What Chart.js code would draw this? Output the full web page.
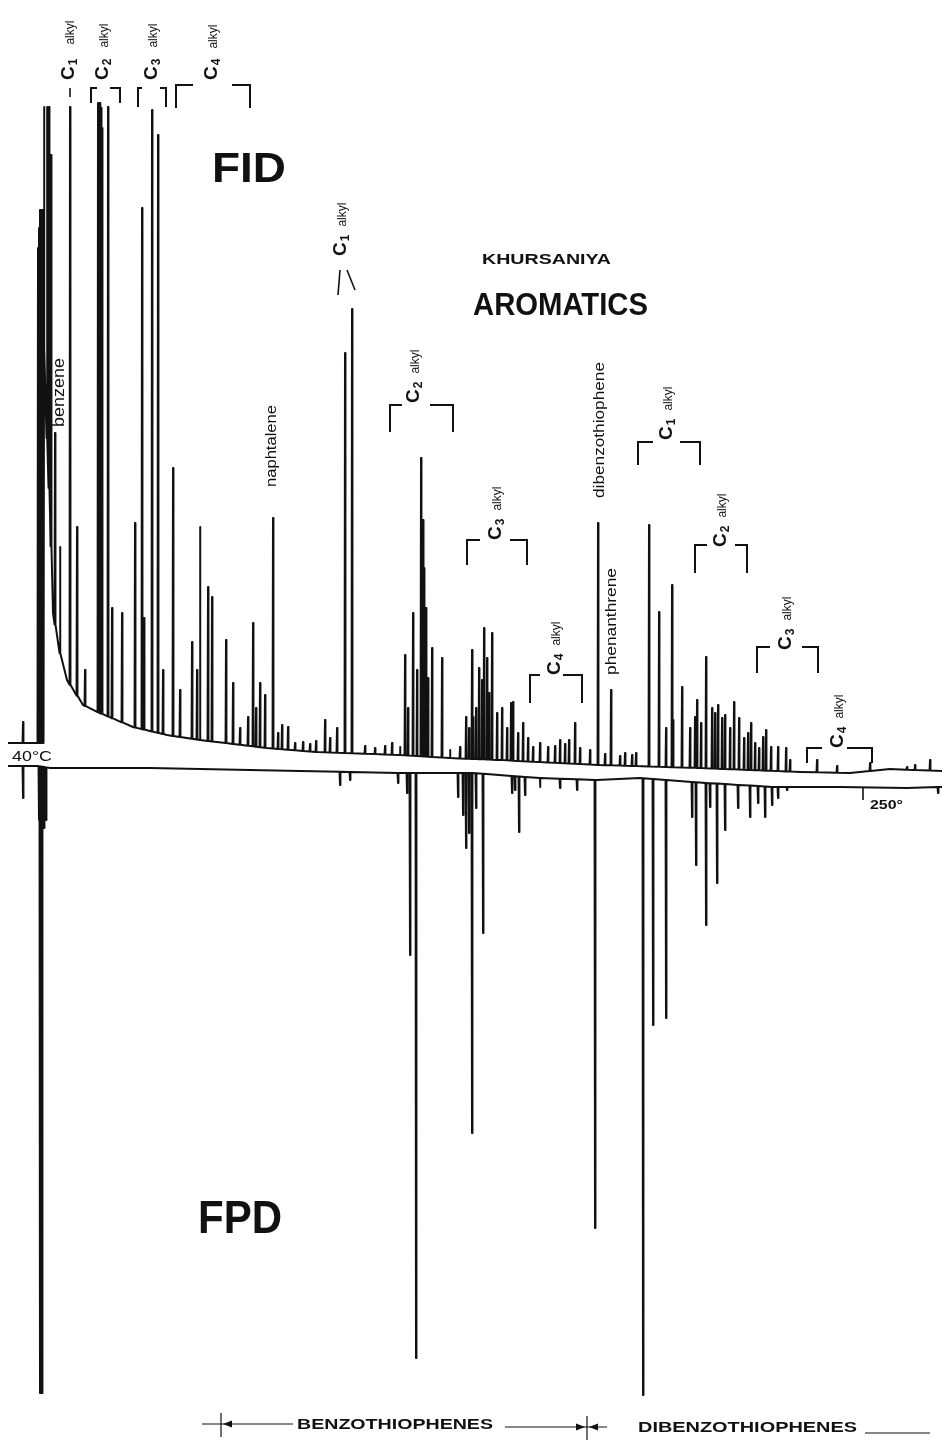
<!DOCTYPE html>
<html>
<head>
<meta charset="utf-8">
<title>Khursaniya aromatics - FID / FPD</title>
<script src="https://cdn.jsdelivr.net/npm/chart.js@4.4.1/dist/chart.umd.min.js"></script>
<style>
  html, body { margin: 0; padding: 0; background: #fff; overflow: hidden; }
</style>
</head>
<body>
<canvas id="gc" width="942" height="1443"></canvas>
<script>
// Retention axis runs from the 40 C start (left) to past 250 C (right).
// Response is in chart units, FID upwards, FPD downwards.
const fidBaseTimes  = [8, 37.5, 43.6, 44, 47, 50, 53, 60, 67, 83, 100, 133, 167, 200, 267, 317, 400, 450, 500, 600, 700, 800, 850, 890, 942];
const fidBaseValues = [25, 25, 25, 420, 330, 255, 155, 115, 88, 63, 55, 41, 33, 28, 20, 16, 13, 10, 8, 3, 0, -4, -5, -1, -3];

const fidPeakTimes  = [23, 38, 39, 40, 41, 42, 43, 44, 47, 49, 51, 55, 60, 70, 77, 85, 98, 99, 100, 101, 102, 108,
  112, 122, 135, 142, 144, 152, 158, 163, 173, 180, 192, 197, 200, 208, 212, 226, 233, 240, 248, 253,
  256, 260, 265, 273, 278, 282, 288, 295, 303, 310, 316, 325, 330, 337, 345, 352, 365, 375, 385, 392,
  400, 405, 408, 413, 417, 421, 423, 424, 426, 428, 432, 442, 450, 460, 466, 469, 472, 473, 476, 479,
  482, 484, 487, 489, 492, 497, 502, 507, 511, 513, 518, 523, 528, 533, 540, 548, 555, 560, 565, 569,
  575, 580, 590, 598, 605, 611, 620, 625, 632, 636, 649, 659, 666, 672, 673, 682, 690, 695, 697, 701,
  706, 712, 715, 718, 722, 725, 730, 734, 739, 744, 748, 751, 755, 759, 763, 766, 771, 778, 786, 790,
  817, 837, 870, 907, 915, 930];
const fidPeakValues = [46, 520, 540, 558, 558, 558, 558, 661, 661, 661, 613, 335, 221, 661, 241, 98, 665, 665, 665, 660, 640, 661,
  160, 155, 245, 560, 150, 658, 633, 98, 300, 78, 126, 98, 241, 181, 171, 128, 85, 40, 51, 145,
  60, 85, 73, 250, 35, 43, 41, 25, 26, 24, 27, 48, 30, 40, 415, 459, 22, 20, 22, 25,
  21, 113, 60, 155, 98, 310, 248, 200, 160, 90, 120, 110, 18, 21, 51, 40, 118, 51, 60, 100,
  88, 140, 110, 75, 135, 55, 60, 40, 65, 66, 35, 45, 30, 21, 25, 21, 22, 28, 24, 28,
  45, 20, 18, 245, 14, 78, 12, 15, 13, 15, 243, 156, 40, 183, 48, 81, 40, 51, 68, 45,
  111, 60, 55, 63, 50, 53, 40, 66, 50, 30, 35, 45, 25, 20, 31, 38, 21, 21, 20, 8,
  8, 2, 5, 1, 3, 8];

const fpdBaseTimes  = [8, 37, 50, 150, 300, 400, 473, 540, 597, 640, 707, 773, 840, 907, 942];
const fpdBaseValues = [2, 2, 0, 0, -3, -5, -5, -10, -12, -10, -15, -19, -19, -20, -19];

const fpdPeakTimes  = [23, 39, 40, 41, 42, 44, 46, 340, 350, 398, 407, 410, 416, 458, 463, 466, 469, 472, 476, 483,
  512, 515, 519, 525, 540, 560, 577, 595, 643, 653, 666, 692, 696, 706, 710, 717, 725, 738, 750, 758,
  765, 772, 778, 787, 938];
const fpdPeakValues = [-30, -52, -625, -625, -625, -60, -52, -17, -12, -15, -25, -187, -590, -29, -47, -80, -65, -365, -40, -165,
  -25, -22, -64, -27, -19, -20, -22, -460, -627, -257, -250, -49, -97, -157, -39, -115, -62, -40, -49, -35,
  -49, -37, -30, -22, -25];

// annotation layout, in the same chart units
const alkylLabels = [
  { t: 67, v: 688, n: '1', gap: 14 }, { t: 101, v: 688, n: '2', gap: 11 },
  { t: 150, v: 688, n: '3', gap: 11 }, { t: 210, v: 688, n: '4', gap: 10 },
  { t: 339, v: 512, n: '1', gap: 8 }, { t: 412, v: 365, n: '2', gap: 8 },
  { t: 494, v: 228, n: '3', gap: 8 }, { t: 553, v: 93, n: '4', gap: 8 },
  { t: 665, v: 328, n: '1', gap: 8 }, { t: 719, v: 221, n: '2', gap: 8 },
  { t: 784, v: 118, n: '3', gap: 8 }, { t: 836, v: 20, n: '4', gap: 8 }
];
// t1, gapStart, gapEnd, t2, top, bottom
const brackets = [
  [91, 97, 110, 120, 680, 665], [138, 142, 160, 166, 680, 661], [176, 193, 232, 250, 683, 660],
  [390, 402, 430, 453, 363, 336], [467, 480, 510, 527, 228, 203], [530, 540, 563, 582, 93, 65],
  [638, 653, 680, 700, 326, 303], [695, 707, 735, 747, 223, 195], [757, 770, 802, 818, 121, 95],
  [807, 822, 847, 872, 20, 5]
];
const segments = [
  [70, 680, 70, 671], [340, 498, 338, 473], [347, 498, 355, 478], [863, -20, 863, -32]
];
const scaleLines = [
  [202, -656, 293, -656], [221, -645, 221, -669], [505, -659, 607, -659], [587, -648, 587, -672], [865, -665, 930, -665]
];
const arrowHeads = [[223, -656, 1], [585, -659, -1], [589, -659, 1]];
const wordsUp = [
  { text: 'benzene', t: 60, v: 341, len: 69, size: 16 },
  { text: 'naphtalene', t: 272, v: 281, len: 82, size: 14 },
  { text: 'dibenzothiophene', t: 600, v: 270, len: 136, size: 14 },
  { text: 'phenanthrene', t: 612, v: 93, len: 107, size: 14 }
];
const wordsFlat = [
  { text: 'FID', t: 212, v: 598, len: 74, size: 42, bold: true },
  { text: 'KHURSANIYA', t: 482, v: 508, len: 129, size: 15, bold: true },
  { text: 'AROMATICS', t: 473, v: 462, len: 175, size: 31, bold: true },
  { text: 'FPD', t: 198, v: -452, len: 84, size: 47, bold: true },
  { text: '40°C', t: 12, v: 11, len: 40, size: 14, bold: false },
  { text: '250°', t: 870, v: -37, len: 33, size: 13, bold: true },
  { text: 'BENZOTHIOPHENES', t: 297, v: -657, len: 196, size: 14, bold: true },
  { text: 'DIBENZOTHIOPHENES', t: 638, v: -660, len: 219, size: 14, bold: true }
];

const FONT = '"Liberation Sans", Arial, sans-serif';
const INK = '#111';

function baseAt(times, values, t) {
  for (let i = 1; i < times.length; i++) {
    if (t <= times[i]) {
      const f = (t - times[i - 1]) / (times[i] - times[i - 1]);
      return values[i - 1] + f * (values[i] - values[i - 1]);
    }
  }
  return values[values.length - 1];
}

// baseline samples plus a narrow spike for every peak
function buildTrace(baseTimes, baseValues, peakTimes, peakValues) {
  const pts = baseTimes.map((t, i) => ({ x: t, y: baseValues[i] }));
  peakTimes.forEach((t, i) => {
    const b = baseAt(baseTimes, baseValues, t);
    pts.push({ x: t - 0.45, y: b }, { x: t, y: peakValues[i] }, { x: t + 0.45, y: b });
  });
  pts.sort((a, b) => a.x - b.x);
  return pts;
}

const labelPlugin = {
  id: 'gcLabels',
  afterDatasetsDraw(chart) {
    const ctx = chart.ctx;
    const px = t => chart.scales.x.getPixelForValue(t);
    const py = v => chart.scales.y.getPixelForValue(v);
    ctx.save();
    ctx.fillStyle = INK;
    ctx.strokeStyle = INK;
    ctx.lineCap = 'butt';

    ctx.lineWidth = 2;
    brackets.forEach(b => {
      ctx.beginPath();
      ctx.moveTo(px(b[0]), py(b[5])); ctx.lineTo(px(b[0]), py(b[4])); ctx.lineTo(px(b[1]), py(b[4]));
      ctx.moveTo(px(b[2]), py(b[4])); ctx.lineTo(px(b[3]), py(b[4])); ctx.lineTo(px(b[3]), py(b[5]));
      ctx.stroke();
    });
    ctx.lineWidth = 1.6;
    segments.forEach(s => {
      ctx.beginPath(); ctx.moveTo(px(s[0]), py(s[1])); ctx.lineTo(px(s[2]), py(s[3])); ctx.stroke();
    });
    ctx.lineWidth = 1.2;
    scaleLines.forEach(s => {
      ctx.beginPath(); ctx.moveTo(px(s[0]), py(s[1])); ctx.lineTo(px(s[2]), py(s[3])); ctx.stroke();
    });
    arrowHeads.forEach(a => {
      const x = px(a[0]), y = py(a[1]), d = a[2];
      ctx.beginPath(); ctx.moveTo(x, y); ctx.lineTo(x + d * 9, y - 3.5); ctx.lineTo(x + d * 9, y + 3.5); ctx.closePath(); ctx.fill();
    });

    // C_n alkyl groups, written bottom to top
    alkylLabels.forEach(l => {
      ctx.save();
      ctx.font = 'bold 19px ' + FONT;
      const cap = 19 * 0.72;
      ctx.translate(px(l.t) + cap / 2, py(l.v));
      ctx.rotate(-Math.PI / 2);
      ctx.textAlign = 'left';
      ctx.textBaseline = 'alphabetic';
      ctx.fillText('C', 0, 0);
      let w = ctx.measureText('C').width + 1;
      ctx.font = 'bold 12px ' + FONT;
      ctx.fillText(l.n, w, 3);
      w += ctx.measureText(l.n).width + l.gap;
      ctx.font = '12px ' + FONT;
      ctx.fillText('alkyl', w, 0);
      ctx.restore();
    });

    wordsUp.forEach(l => {
      ctx.save();
      ctx.font = l.size + 'px ' + FONT;
      const sx = l.len / ctx.measureText(l.text).width;
      ctx.translate(px(l.t), py(l.v));
      ctx.rotate(-Math.PI / 2);
      ctx.scale(sx, 1);
      ctx.textAlign = 'left';
      ctx.textBaseline = 'middle';
      ctx.fillText(l.text, 0, 0);
      ctx.restore();
    });

    wordsFlat.forEach(l => {
      ctx.save();
      ctx.font = (l.bold ? 'bold ' : '') + l.size + 'px ' + FONT;
      const sx = l.len / ctx.measureText(l.text).width;
      ctx.translate(px(l.t), py(l.v));
      ctx.scale(sx, 1);
      ctx.textAlign = 'left';
      ctx.textBaseline = 'middle';
      ctx.fillText(l.text, 0, 0);
      ctx.restore();
    });
    ctx.restore();
  }
};

function traceDataset(label, data) {
  return {
    label: label,
    data: data,
    showLine: true,
    borderColor: INK,
    borderWidth: 2,
    borderJoinStyle: 'round',
    pointRadius: 0,
    tension: 0
  };
}

new Chart(document.getElementById('gc'), {
  type: 'scatter',
  data: {
    datasets: [
      traceDataset('FID', buildTrace(fidBaseTimes, fidBaseValues, fidPeakTimes, fidPeakValues)),
      traceDataset('FPD', buildTrace(fpdBaseTimes, fpdBaseValues, fpdPeakTimes, fpdPeakValues))
    ]
  },
  options: {
    responsive: false,
    animation: false,
    events: [],
    layout: { padding: 0 },
    plugins: { legend: { display: false }, tooltip: { enabled: false } },
    scales: {
      x: { type: 'linear', min: 0, max: 942, display: false },
      y: { type: 'linear', min: -675, max: 768, display: false }
    }
  },
  plugins: [labelPlugin]
});
</script>
</body>
</html>
